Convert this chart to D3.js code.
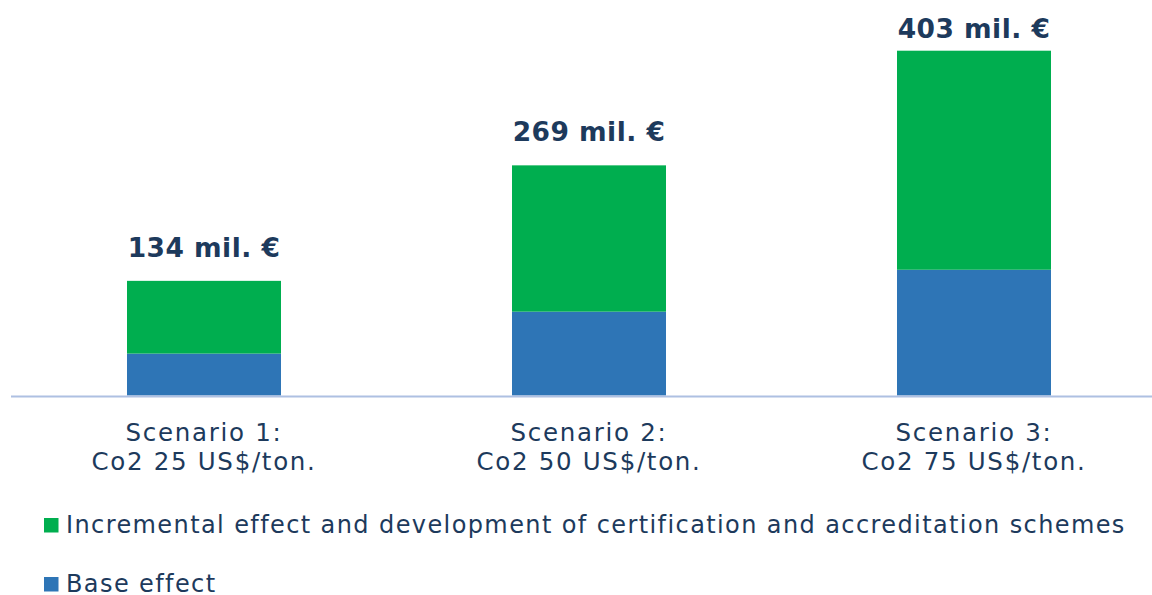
<!DOCTYPE html>
<html>
<head>
<meta charset="utf-8">
<script src="https://cdn.jsdelivr.net/npm/d3@7"></script>
<style>
  html, body { margin: 0; padding: 0; background: #ffffff; }
  svg { display: block; }
  text { font-family: "DejaVu Sans", Verdana, sans-serif; }
</style>
</head>
<body>
<svg id="chart" width="1152" height="595"></svg>
<script>
const scenarioLine1 = ["Scenario 1:", "Scenario 2:", "Scenario 3:"];
const scenarioLine2 = ["Co2 25 US$/ton.", "Co2 50 US$/ton.", "Co2 75 US$/ton."];
const baseEffect = [49, 98, 147];
const incrementalEffect = [85, 171, 256];
const totalLabels = ["134 mil. €", "269 mil. €", "403 mil. €"];
const seriesNames = ["Incremental effect and development of certification and accreditation schemes", "Base effect"];

const W = 1152, H = 595;
const textColor = "#1d3a5c";
const colors = { base: "#2e75b6", inc: "#00ae4f" };

const svg = d3.select("#chart");

const data = scenarioLine1.map((s, i) => ({
  key: s, base: baseEffect[i], inc: incrementalEffect[i], label: totalLabels[i],
  l1: scenarioLine1[i], l2: scenarioLine2[i]
}));

const x = d3.scaleBand().domain(scenarioLine1).range([11.5, 1166.5]).paddingInner(0.6).paddingOuter(0.3);
const y = d3.scaleLinear().domain([0, 403]).range([395.5, 50.7]);

const stack = d3.stack().keys(["base", "inc"]);
const series = stack(data);

svg.append("g").selectAll("g").data(series).join("g")
  .attr("fill", d => colors[d.key])
  .selectAll("rect").data(d => d).join("rect")
  .attr("x", d => x(d.data.key))
  .attr("width", x.bandwidth())
  .attr("y", d => y(d[1]))
  .attr("height", d => y(d[0]) - y(d[1]));

// axis line
svg.append("line")
  .attr("x1", 11).attr("x2", W)
  .attr("y1", y(0) + 1).attr("y2", y(0) + 1)
  .attr("stroke", "#aec0e2").attr("stroke-width", 2);

// total labels
svg.append("g").selectAll("text").data(data).join("text")
  .attr("x", d => x(d.key) + x.bandwidth() / 2)
  .attr("y", d => Math.max(38, y(d.base + d.inc) - 24))
  .attr("text-anchor", "middle")
  .attr("font-weight", "bold")
  .attr("font-size", 26.5)
  .attr("letter-spacing", 0.45)
  .attr("fill", textColor)
  .text(d => d.label);

// category labels
const cat = svg.append("g").selectAll("text").data(data).join("text")
  .attr("text-anchor", "middle")
  .attr("font-size", 24.5)
  .attr("letter-spacing", 1.7)
  .attr("fill", textColor);
cat.append("tspan").attr("x", d => x(d.key) + x.bandwidth() / 2).attr("y", 441).text(d => d.l1);
cat.append("tspan").attr("x", d => x(d.key) + x.bandwidth() / 2).attr("y", 470).text(d => d.l2);

// legend
const legendItems = [
  { name: seriesNames[0], color: colors.inc, y: 533 },
  { name: seriesNames[1], color: colors.base, y: 592 }
];
const lg = svg.append("g").selectAll("g").data(legendItems).join("g");
lg.append("rect")
  .attr("x", 44).attr("y", d => d.y - 15)
  .attr("width", 14.5).attr("height", 14.5)
  .attr("fill", d => d.color);
lg.append("text")
  .attr("x", 66).attr("y", d => d.y)
  .attr("font-size", 24)
  .attr("letter-spacing", 1.4)
  .attr("fill", textColor)
  .text(d => d.name);
</script>
</body>
</html>
